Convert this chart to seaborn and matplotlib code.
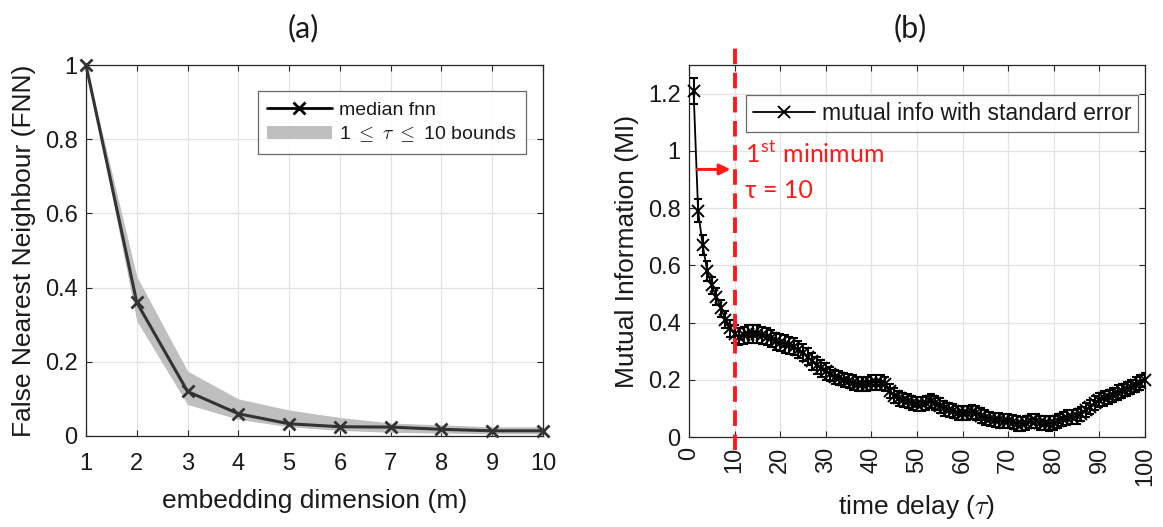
import numpy as np
import pandas as pd
import matplotlib
matplotlib.use("Agg")
import matplotlib.pyplot as plt
from matplotlib.lines import Line2D
from matplotlib.patches import Patch
import seaborn as sns

# ---------------- data ----------------
emb_dim = [1, 2, 3, 4, 5, 6, 7, 8, 9, 10]
fnn_median = [1.0, 0.36, 0.12, 0.06, 0.033, 0.025, 0.024, 0.018, 0.014, 0.014]
fnn_upper = [1.0, 0.43, 0.175, 0.10, 0.07, 0.05, 0.035, 0.03, 0.025, 0.025]
fnn_lower = [1.0, 0.31, 0.085, 0.045, 0.025, 0.015, 0.01, 0.008, 0.006, 0.006]

tau = list(range(1, 101))
mi = [1.21, 0.79, 0.67, 0.58, 0.53, 0.49, 0.45, 0.41, 0.38, 0.36,
      0.35, 0.355, 0.36, 0.36, 0.36, 0.355, 0.35, 0.345, 0.335, 0.33,
      0.325, 0.32, 0.315, 0.305, 0.295, 0.28, 0.265, 0.25, 0.24, 0.23,
      0.22, 0.21, 0.205, 0.20, 0.195, 0.19, 0.185, 0.185, 0.185, 0.19,
      0.19, 0.19, 0.185, 0.16, 0.145, 0.135, 0.13, 0.125, 0.12, 0.115,
      0.115, 0.12, 0.125, 0.12, 0.11, 0.10, 0.095, 0.09, 0.085, 0.083,
      0.085, 0.088, 0.085, 0.075, 0.068, 0.062, 0.06, 0.058, 0.056, 0.055,
      0.052, 0.047, 0.045, 0.05, 0.055, 0.055, 0.05, 0.048, 0.047, 0.05,
      0.055, 0.062, 0.068, 0.07, 0.072, 0.08, 0.095, 0.105, 0.12, 0.13,
      0.135, 0.14, 0.147, 0.155, 0.16, 0.168, 0.175, 0.183, 0.19, 0.198]
mi_se = [0.045, 0.04, 0.035, 0.035, 0.03, 0.03, 0.03, 0.03, 0.03, 0.03,
         0.03, 0.03, 0.03, 0.03, 0.03, 0.03, 0.03, 0.03, 0.03, 0.03,
         0.03, 0.03, 0.03, 0.03, 0.03, 0.03, 0.03, 0.03, 0.03, 0.03,
         0.025, 0.025, 0.025, 0.025, 0.025, 0.025, 0.025, 0.025, 0.025, 0.025,
         0.025, 0.025, 0.025, 0.025, 0.025, 0.025, 0.025, 0.025, 0.025, 0.025,
         0.025, 0.025, 0.025, 0.025, 0.025, 0.025, 0.025, 0.025, 0.025, 0.025,
         0.025, 0.025, 0.025, 0.025, 0.025, 0.025, 0.025, 0.025, 0.025, 0.025,
         0.025, 0.025, 0.025, 0.025, 0.025, 0.025, 0.025, 0.025, 0.025, 0.025,
         0.025, 0.025, 0.025, 0.025, 0.025, 0.025, 0.025, 0.025, 0.025, 0.025,
         0.025, 0.025, 0.025, 0.025, 0.025, 0.025, 0.025, 0.025, 0.025, 0.025]

xticks_a = [1, 2, 3, 4, 5, 6, 7, 8, 9, 10]
yticks_a = [0, 0.2, 0.4, 0.6, 0.8, 1.0]
yticklabels_a = ["0", "0.2", "0.4", "0.6", "0.8", "1"]
xticks_b = [0, 10, 20, 30, 40, 50, 60, 70, 80, 90, 100]
yticks_b = [0, 0.2, 0.4, 0.6, 0.8, 1.0, 1.2]
yticklabels_b = ["0", "0.2", "0.4", "0.6", "0.8", "1", "1.2"]
min_tau = 10

# ---------------- style ----------------
sns.set_style("whitegrid")
plt.rcParams["font.family"] = ["Liberation Sans", "DejaVu Sans"]
plt.rcParams["mathtext.fontset"] = "cm"
plt.rcParams["text.color"] = "#1a1a1a"
plt.rcParams["axes.labelcolor"] = "#1a1a1a"

fig = plt.figure(figsize=(11.63, 5.27), dpi=100)
ax1 = fig.add_axes([86 / 1163, 1 - 436 / 527, 457 / 1163, 371 / 527])
ax2 = fig.add_axes([689 / 1163, 1 - 437 / 527, 456 / 1163, 372 / 527])

grid_kw = dict(color="#e3e3e3", linewidth=0.9)
for ax in (ax1, ax2):
    ax.grid(True, **grid_kw)
    for s in ax.spines.values():
        s.set_visible(True)
        s.set_color("#262626")
        s.set_linewidth(0.9)
    ax.tick_params(direction="in", length=4, width=0.8, color="#262626",
                   labelsize=17, labelcolor="#1a1a1a",
                   top=True, right=True, bottom=True, left=True)
    ax.tick_params(axis="x", pad=12)
    ax.tick_params(axis="y", pad=6)
    ax.set_facecolor("white")

# ---------------- panel (a) ----------------
df_a = pd.DataFrame({"m": emb_dim, "fnn": fnn_median})
ax1.fill_between(emb_dim, fnn_lower, fnn_upper, color="#bfbfbf", linewidth=0, zorder=2)
sns.lineplot(data=df_a, x="m", y="fnn", ax=ax1, color="#333333", linewidth=2.2,
             marker="x", markersize=9, markeredgewidth=2, markeredgecolor="#333333",
             zorder=3, clip_on=False)
ax1.set_xlim(1, 10)
ax1.set_ylim(0, 1)
ax1.set_xticks(xticks_a)
ax1.set_yticks(yticks_a)
ax1.set_yticklabels(yticklabels_a)
ax1.set_xlabel("embedding dimension (m)", fontsize=19, labelpad=10)
ax1.set_ylabel("False Nearest Neighbour (FNN)", fontsize=19, labelpad=6)
ax1.set_title("(a)", fontsize=22, pad=20, x=0.475, family=["Lato", "DejaVu Sans"])
handles_a = [Line2D([0], [0], color="black", linewidth=2, marker="x",
                    markersize=8, markeredgewidth=2),
             Patch(facecolor="#bfbfbf", edgecolor="none")]
leg1 = ax1.legend(handles_a, ["median fnn", r"1 $\leq$ $\tau$ $\leq$ 10 bounds"],
                  loc="upper right", bbox_to_anchor=(0.985, 0.955), fontsize=14,
                  frameon=True, fancybox=False, edgecolor="#444444",
                  handlelength=3.3, handletextpad=0.4, borderpad=0.5, labelspacing=0.3)
leg1.get_frame().set_linewidth(0.9)

# ---------------- panel (b) ----------------
df_b = pd.DataFrame({"tau": tau, "mi": mi})
ax2.errorbar(tau, mi, yerr=mi_se, fmt="none", ecolor="black", elinewidth=1.5,
             capsize=3, capthick=1.5, zorder=3)
sns.lineplot(data=df_b, x="tau", y="mi", ax=ax2, color="black", linewidth=1.3,
             marker="x", markersize=8, markeredgewidth=1.4, markeredgecolor="black",
             zorder=4, clip_on=False)
ax2.axvline(min_tau, ymin=-0.035, ymax=1.045, color="#ff1a1a", linestyle=(0, (4, 2.2)),
            linewidth=2.8, zorder=5, clip_on=False)
ax2.set_xlim(0, 100)
ax2.set_ylim(0, 1.3)
ax2.set_xticks(xticks_b)
ax2.set_xticklabels([str(v) for v in xticks_b], rotation=90)
ax2.tick_params(axis="x", pad=7)
ax2.set_yticks(yticks_b)
ax2.set_yticklabels(yticklabels_b)
ax2.set_xlabel(r"time delay ($\tau$)", fontsize=19, labelpad=5)
ax2.set_ylabel("Mutual Information (MI)", fontsize=19, labelpad=6)
ax2.set_title("(b)", fontsize=22, pad=20, x=0.485, family=["Lato", "DejaVu Sans"])
ax2.annotate("", xy=(min_tau - 0.3, 0.935), xytext=(1.2, 0.935),
             arrowprops=dict(arrowstyle="-|>", color="#ff1a1a", lw=2.2,
                             mutation_scale=16), zorder=6)
ax2.text(min_tau + 2.3, 0.99, r"1$^{\mathregular{st}}$ minimum", color="#ff1a1a",
         fontsize=18, va="center", ha="left", family=["Lato", "DejaVu Sans"])
ax2.text(min_tau + 2.3, 0.86, "\u03c4 = 10", color="#ff1a1a",
         fontsize=18, va="center", ha="left", family=["Lato", "DejaVu Sans"])
handles_b = [Line2D([0], [0], color="black", linewidth=1.3, marker="x",
                    markersize=9, markeredgewidth=1.4)]
leg2 = ax2.legend(handles_b, ["mutual info with standard error"],
                  loc="upper right", bbox_to_anchor=(1.01, 0.95), fontsize=16.5,
                  frameon=True, fancybox=False, edgecolor="#444444",
                  handlelength=2.7, handletextpad=0.3, borderpad=0.3)
leg2.get_frame().set_linewidth(0.9)

fig.savefig("out.png", dpi=100, facecolor="white")
